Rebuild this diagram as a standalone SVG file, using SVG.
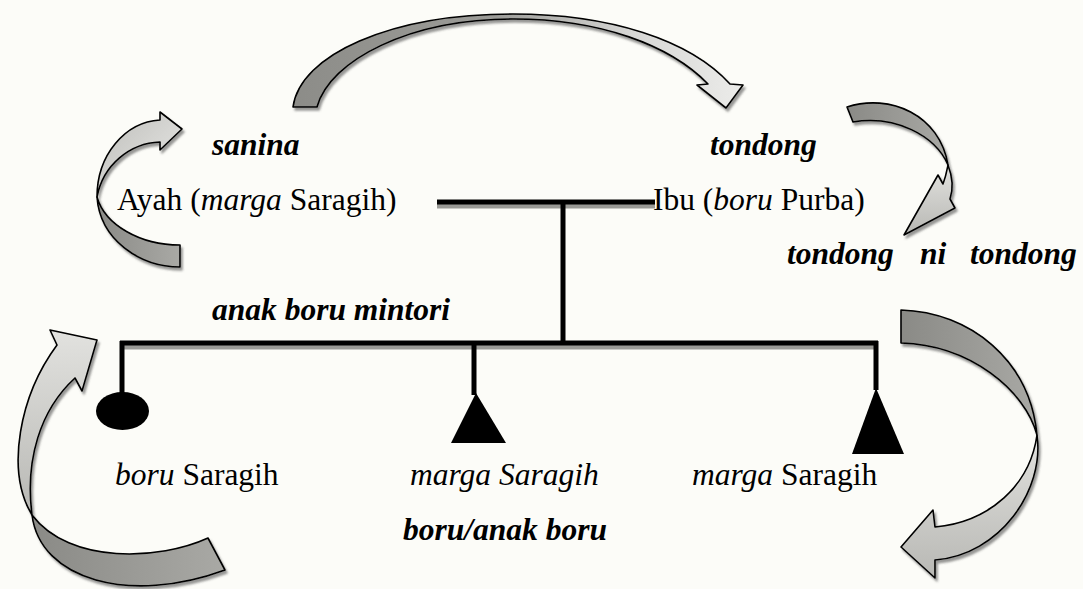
<svg xmlns="http://www.w3.org/2000/svg" width="1083" height="589" viewBox="0 0 1083 589">
  <style>
    .t { font-family: "Liberation Serif", "Times New Roman", serif; font-size: 31.5px; fill: #000; }
    .bi { font-weight: bold; font-style: italic; }
    .i { font-style: italic; }
    .band { stroke: #000; stroke-width: 1.6; stroke-linejoin: round; }
    .line { stroke: #000; stroke-width: 5; fill: none; }
    .shade { stroke: #9a9a96; stroke-width: 5; fill: none; }
  </style>
  <defs>
    <linearGradient id="dark" x1="0" y1="0" x2="1" y2="0">
      <stop offset="0" stop-color="#8a8a86"/>
      <stop offset="1" stop-color="#a9a9a5"/>
    </linearGradient>
    <linearGradient id="light" x1="0" y1="0" x2="1" y2="1">
      <stop offset="0" stop-color="#bdbdb9"/>
      <stop offset="1" stop-color="#ececea"/>
    </linearGradient>
    <linearGradient id="lightV" x1="0" y1="0" x2="0" y2="1">
      <stop offset="0" stop-color="#e2e2df"/>
      <stop offset="1" stop-color="#b8b8b4"/>
    </linearGradient>
    <linearGradient id="topArc" x1="290" y1="0" x2="745" y2="0" gradientUnits="userSpaceOnUse">
      <stop offset="0" stop-color="#8c8c88"/>
      <stop offset="0.45" stop-color="#9c9c98"/>
      <stop offset="0.75" stop-color="#d6d6d4"/>
      <stop offset="1" stop-color="#ececea"/>
    </linearGradient>
    <filter id="shadow" x="-10%" y="-10%" width="130%" height="130%">
      <feDropShadow dx="2" dy="3" stdDeviation="1.2" flood-color="#444" flood-opacity="0.55"/>
    </filter>
  </defs>

  <rect width="1083" height="589" fill="#fcfcf8"/>

  <!-- curved relation arrows -->
  <g id="connectors" filter="url(#shadow)">
    <!-- sanina: loop back to the father -->
    <g id="arrow-sanina">
      <path class="band" fill="url(#dark)" d="M 97,197 C 100,240 140,267 180,267 L 180,245 C 140,245 105,225 97,197 Z"/>
      <path class="band" fill="url(#light)" d="M 97,197 C 97,155 125,122 160,120 L 160,112 L 182,129 L 160,150 L 160,142 C 130,143 103,165 97,197 Z"/>
    </g>
    <!-- father side over to tondong -->
    <g id="arrow-tondong">
      <path class="band" fill="url(#topArc)" d="M 293,107 C 300,55 390,14 513,14 C 610,14 690,40 730,84 L 743,85 L 726,108 L 697,85 L 708,84 C 670,45 600,19 513,19 C 410,19 330,60 317,107 Z"/>
    </g>
    <!-- tondong on to tondong ni tondong -->
    <g id="arrow-tondong-ni-tondong">
      <path class="band" fill="url(#dark)" d="M 847,107 C 890,93 940,115 948,165 C 935,135 895,115 853,122 Z"/>
      <path class="band" fill="url(#lightV)" d="M 948,165 C 953,178 953,190 950,199 L 955,208 L 904,235 L 938,175 L 943,184 C 946,176 947,170 948,165 Z"/>
    </g>
    <!-- boru Saragih up to anak boru mintori -->
    <g id="arrow-mintori">
      <path class="band" fill="url(#dark)" d="M 32,515 C 40,580 130,605 225,570 L 208,538 C 160,560 70,565 32,515 Z"/>
      <path class="band" fill="url(#lightV)" d="M 32,515 C 5,470 20,395 57,345 L 50,330 L 97,340 L 82,391 L 75,378 C 40,410 25,460 32,515 Z"/>
    </g>
    <!-- marga Saragih down to boru/anak boru -->
    <g id="arrow-anak-boru">
      <path class="band" fill="url(#dark)" d="M 901,310 C 970,312 1030,360 1037,435 C 1025,390 970,345 901,343 Z"/>
      <path class="band" fill="url(#lightV)" d="M 1037,435 C 1045,490 1000,555 935,560 L 935,578 L 901,547 L 933,510 L 935,527 C 990,522 1030,485 1037,435 Z"/>
    </g>
  </g>

  <!-- kinship lines -->
  <g id="kinship-lines">
    <line class="shade" x1="437" y1="206" x2="655" y2="206"/>
    <line class="line" x1="437" y1="202" x2="655" y2="202"/>
    <line class="line" x1="563" y1="202" x2="563" y2="343"/>
    <line class="shade" x1="120" y1="347" x2="878" y2="347"/>
    <line class="line" x1="120" y1="343" x2="878" y2="343"/>
    <line class="line" x1="122" y1="341" x2="122" y2="394"/>
    <line class="line" x1="474" y1="341" x2="474" y2="395"/>
    <line class="line" x1="876" y1="341" x2="876" y2="390"/>
  </g>

  <g id="ayah">
    <text class="t" x="117" y="210">Ayah (<tspan class="i">marga</tspan> Saragih)</text>
  </g>
  <g id="ibu">
    <text class="t" x="653" y="210">Ibu (<tspan class="i">boru</tspan> Purba)</text>
  </g>
  <g id="label-sanina">
    <text class="t bi" x="212" y="155">sanina</text>
  </g>
  <g id="label-tondong">
    <text class="t bi" x="710" y="155">tondong</text>
  </g>
  <g id="label-tondong-ni-tondong">
    <text class="t bi" y="264"><tspan x="787">tondong</tspan><tspan x="920">ni</tspan><tspan x="970">tondong</tspan></text>
  </g>
  <g id="label-mintori">
    <text class="t bi" x="212" y="320">anak boru mintori</text>
  </g>

  <g id="child-daughter">
    <ellipse cx="122.5" cy="411" rx="26.5" ry="19" fill="#000"/>
    <text class="t" x="115" y="485"><tspan class="i">boru</tspan> Saragih</text>
  </g>
  <g id="child-son-1">
    <polygon points="476,393 506,443 451,443" fill="#000"/>
    <text class="t i" x="410" y="485">marga Saragih</text>
  </g>
  <g id="child-son-2">
    <polygon points="876,388 904,454 852,454" fill="#000"/>
    <text class="t" x="692" y="485"><tspan class="i">marga</tspan> Saragih</text>
  </g>
  <g id="label-anak-boru">
    <text class="t bi" x="403" y="540">boru/anak boru</text>
  </g>
</svg>
